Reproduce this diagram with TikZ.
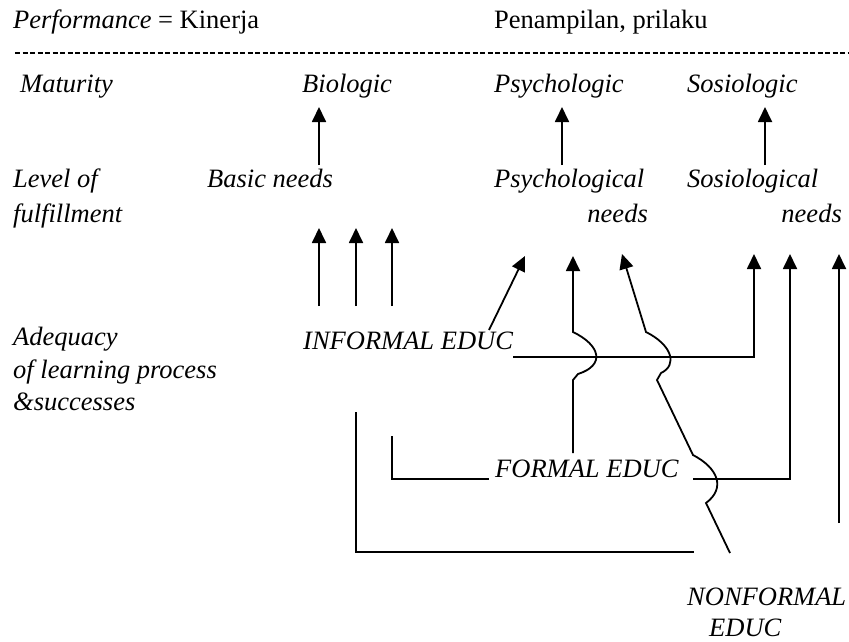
\documentclass[tikz,border=0pt]{standalone}
\usepackage{fontspec}
\setmainfont{Liberation Serif}
\usetikzlibrary{arrows.meta}

\begin{document}
\begin{tikzpicture}[x=1pt,y=-1pt,
	lbl/.style={anchor=base west,inner sep=0pt,font=\fontsize{26.5}{32}\selectfont\itshape},
	lblr/.style={lbl,anchor=base east},
	wire/.style={line width=1.8pt},
	up/.style={wire,-{Triangle[length=15pt,width=14pt]}}]
	\useasboundingbox (0,0) rectangle (849,641);
	% header
	\node[lbl] (perf) at (13,28) {Performance \upshape= Kinerja};
	\node[lbl] (pen) at (494,28) {\upshape Penampilan, prilaku};
	\draw[line width=2pt,dash pattern=on 5pt off 2.5pt] (15,53) -- (849,53);
	% rows
	\node[lbl] (mat) at (20,92) {Maturity};
	\node[lbl] (bio) at (302,92) {Biologic};
	\node[lbl] (psy) at (494,92) {Psychologic};
	\node[lbl] (sos) at (687,92) {Sosiologic};
	\node[lbl] (lev) at (13,187) {Level of};
	\node[lbl] (ful) at (13,222) {fulfillment};
	\node[lbl] (basic) at (207,187) {Basic needs};
	\node[lbl] (psyn) at (494,187) {Psychological};
	\node[lblr] (psyn2) at (648,222) {needs};
	\node[lbl] (sosn) at (687,187) {Sosiological};
	\node[lblr] (sosn2) at (842,222) {needs};
	\node[lbl] (adq) at (13,345) {Adequacy};
	\node[lbl] (lrn) at (13,378) {of learning process};
	\node[lbl] (suc) at (13,410) {\&successes};
	\node[lbl] (inf) at (303,349) {INFORMAL EDUC};
	\node[lbl] (frm) at (495,477) {FORMAL EDUC};
	\node[lbl] (nf) at (687,605) {NONFORMAL};
	\node[lbl] (nf2) at (709,636) {EDUC};
	% arrow ends
	\coordinate (bioB) at (319,165); \coordinate (bioT) at (319,107);
	\coordinate (psyB) at (562,165); \coordinate (psyT) at (562,107);
	\coordinate (sosB) at (765,165); \coordinate (sosT) at (765,107);
	\foreach \x/\n in {319/a,356/b,392/c}{
		\coordinate (bn\n B) at (\x,306); \coordinate (bn\n T) at (\x,228);
	}
	\coordinate (infD) at (489,330); \coordinate (infDT) at (525,256);
	\coordinate (infH) at (513,357); \coordinate (infR) at (754,357);
	\coordinate (infT) at (754,254);
	\coordinate (frmL) at (392,436); \coordinate (frmLB) at (392,479);
	\coordinate (frmLE) at (489,479);
	\coordinate (frmRS) at (693,479); \coordinate (frmR) at (790,479);
	\coordinate (frmT) at (790,254);
	\coordinate (frmV) at (573,453); \coordinate (frmW) at (573,380);
	\coordinate (frmW2) at (578,374); \coordinate (frmW3) at (573,332);
	\coordinate (frmVT) at (573,256);
	\coordinate (nfL) at (356,412); \coordinate (nfLB) at (356,552);
	\coordinate (nfLE) at (694,552);
	\coordinate (nfE) at (730,553); \coordinate (nfT) at (622,254);
	\coordinate (rtB) at (839,523); \coordinate (rtT) at (839,254);
	% maturity arrows
	\draw[up] (bioB) -- (bioT);
	\draw[up] (psyB) -- (psyT);
	\draw[up] (sosB) -- (sosT);
	\foreach \n in {a,b,c}
		\draw[up] (bn\n B) -- (bn\n T);
	% informal
	\draw[up] (infD) -- (infDT);
	\draw[up] (infH) -- (infR) -- (infT);
	% formal
	\draw[wire] (frmL) -- (frmLB) -- (frmLE);
	\draw[up] (frmRS) -- (frmR) -- (frmT);
	\draw[up] (frmV) -- (frmW) -- (frmW2) .. controls (606,365) and (600,345) .. (frmW3) -- (frmVT);
	% nonformal
	\draw[wire] (nfL) -- (nfLB) -- (nfLE);
	\draw[up] (nfE) -- (706,503) .. controls (726,488) and (718,468) .. (693,455)
		-- (657,380) -- (661,373) .. controls (678,365) and (672,345) .. (646,332) -- (nfT);
	\draw[up] (rtB) -- (rtT);
\end{tikzpicture}
\end{document}
